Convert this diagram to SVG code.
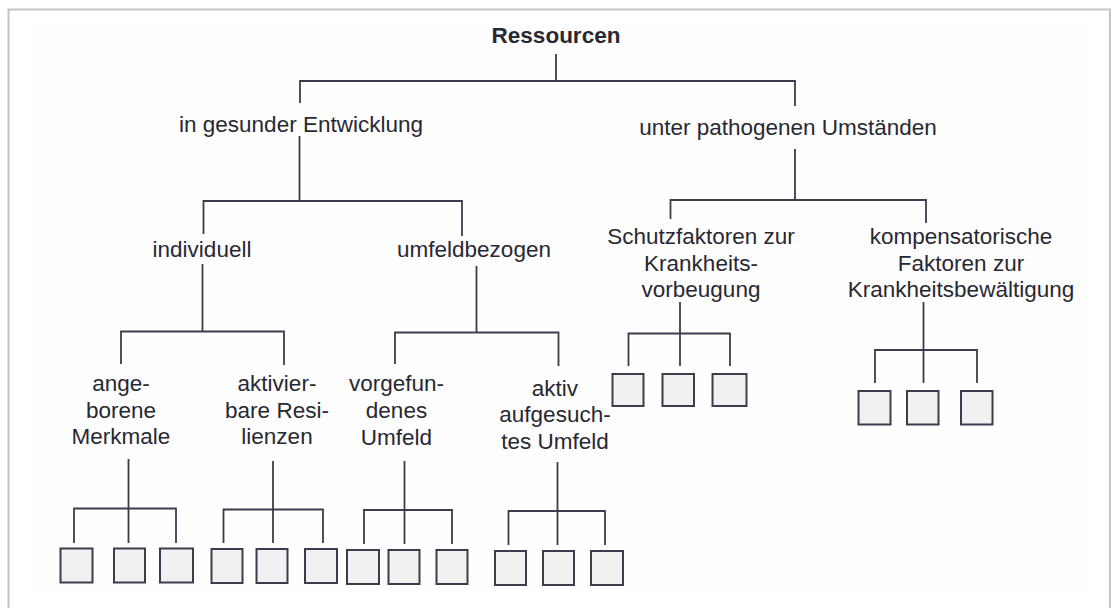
<svg xmlns="http://www.w3.org/2000/svg" width="1113" height="608" viewBox="0 0 1113 608">
  <style>
    .t { font-family: "Liberation Sans", Arial, sans-serif; font-size: 22.5px; fill: #282832; text-anchor: middle; }
    .b { font-weight: bold; }
    .ln { fill: none; stroke: #3c3c4c; stroke-width: 1.8; stroke-linecap: square; }
    .box { fill: #f1f1f1; stroke: #3c3c4c; stroke-width: 2; }
  </style>

  <!-- page frame -->
  <rect x="0" y="0" width="1113" height="608" fill="#ffffff"/>
  <rect x="30" y="24" width="1060" height="566" fill="#fefefe"/>
  <rect x="8.5" y="9.5" width="1101.5" height="620" fill="none" stroke="#c4c4c4" stroke-width="2"/>

  <!-- connectors -->
  <g id="connectors" class="ln">
    <!-- root -->
    <path d="M556 55 V81 M300 81 H795 M300 81 V102 M795 81 V105"/>
    <!-- in gesunder Entwicklung -->
    <path d="M299.5 137 V201 M203.5 201 H462 M203.5 201 V233 M462 201 V235"/>
    <!-- unter pathogenen Umständen -->
    <path d="M795 150 V200 M670.5 200 H926 M670.5 200 V218 M926 200 V222"/>
    <!-- individuell -->
    <path d="M202.5 265 V331.5 M121 331.5 H284 M121 331.5 V363 M284 331.5 V364"/>
    <!-- umfeldbezogen -->
    <path d="M476.5 267 V332.5 M395 332.5 H558.5 M395 332.5 V363 M558.5 332.5 V365"/>
    <!-- Schutzfaktoren -->
    <path d="M680 303 V365 M628.5 333.5 H730 M628.5 333.5 V365 M730 333.5 V365"/>
    <!-- kompensatorische Faktoren -->
    <path d="M923.5 303 V382 M875 350 H977 M875 350 V382 M977 350 V382"/>
    <!-- angeborene Merkmale -->
    <path d="M128.5 460 V542 M74 508.5 H176 M74 508.5 V542 M176 508.5 V542"/>
    <!-- aktivierbare Resilienzen -->
    <path d="M273 462 V542 M223.5 509.5 H323 M223.5 509.5 V542 M323 509.5 V542"/>
    <!-- vorgefundenes Umfeld -->
    <path d="M404.5 462 V543 M364 510 H452 M364 510 V543 M452 510 V543"/>
    <!-- aktiv aufgesuchtes Umfeld -->
    <path d="M557.5 463 V544 M508.5 511 H605 M508.5 511 V544 M605 511 V544"/>
  </g>

  <!-- nodes -->
  <g id="root">
    <text class="t b" x="556" y="42.5">Ressourcen</text>
  </g>
  <g id="gesund">
    <text class="t" x="301" y="132">in gesunder Entwicklung</text>
  </g>
  <g id="pathogen">
    <text class="t" x="788" y="135">unter pathogenen Umständen</text>
  </g>
  <g id="individuell">
    <text class="t" x="202" y="257">individuell</text>
  </g>
  <g id="umfeldbezogen">
    <text class="t" x="474" y="257">umfeldbezogen</text>
  </g>
  <g id="schutzfaktoren">
    <text class="t" x="701" y="243.5">Schutzfaktoren zur</text>
    <text class="t" x="701" y="271">Krankheits-</text>
    <text class="t" x="701" y="297">vorbeugung</text>
  </g>
  <g id="kompensatorisch">
    <text class="t" x="961" y="243.5">kompensatorische</text>
    <text class="t" x="961" y="271">Faktoren zur</text>
    <text class="t" x="961" y="297">Krankheitsbewältigung</text>
  </g>
  <g id="angeboren">
    <text class="t" x="121" y="391">ange-</text>
    <text class="t" x="121" y="418">borene</text>
    <text class="t" x="121" y="444">Merkmale</text>
  </g>
  <g id="aktivierbar">
    <text class="t" x="277" y="391">aktivier-</text>
    <text class="t" x="277" y="418">bare Resi-</text>
    <text class="t" x="277" y="444">lienzen</text>
  </g>
  <g id="vorgefunden">
    <text class="t" x="396.5" y="391">vorgefun-</text>
    <text class="t" x="396.5" y="418">denes</text>
    <text class="t" x="396.5" y="445">Umfeld</text>
  </g>
  <g id="aufgesucht">
    <text class="t" x="555" y="395.5">aktiv</text>
    <text class="t" x="555" y="422">aufgesuch-</text>
    <text class="t" x="555" y="449">tes Umfeld</text>
  </g>

  <!-- leaf boxes -->
  <g id="leaves-angeboren">
    <rect class="box" x="60.5" y="548.5" width="32" height="34"/>
    <rect class="box" x="114" y="548.5" width="31" height="34"/>
    <rect class="box" x="160" y="548.5" width="33" height="34"/>
  </g>
  <g id="leaves-aktivierbar">
    <rect class="box" x="211.5" y="549" width="31" height="34"/>
    <rect class="box" x="256.5" y="549" width="31" height="34"/>
    <rect class="box" x="305" y="549" width="32" height="34"/>
  </g>
  <g id="leaves-vorgefunden">
    <rect class="box" x="347" y="550" width="32" height="34"/>
    <rect class="box" x="388.5" y="550" width="31" height="34"/>
    <rect class="box" x="436.5" y="550" width="31" height="34"/>
  </g>
  <g id="leaves-aufgesucht">
    <rect class="box" x="495" y="551" width="31" height="34"/>
    <rect class="box" x="543" y="551" width="31" height="34"/>
    <rect class="box" x="591" y="551" width="32" height="34"/>
  </g>
  <g id="leaves-schutz">
    <rect class="box" x="612.5" y="374" width="31" height="32"/>
    <rect class="box" x="662.5" y="374" width="31.5" height="32"/>
    <rect class="box" x="712.5" y="374" width="34" height="32"/>
  </g>
  <g id="leaves-kompensatorisch">
    <rect class="box" x="858.5" y="391" width="32" height="33.5"/>
    <rect class="box" x="907" y="391" width="31.5" height="33.5"/>
    <rect class="box" x="961" y="391" width="31.5" height="33.5"/>
  </g>
</svg>
